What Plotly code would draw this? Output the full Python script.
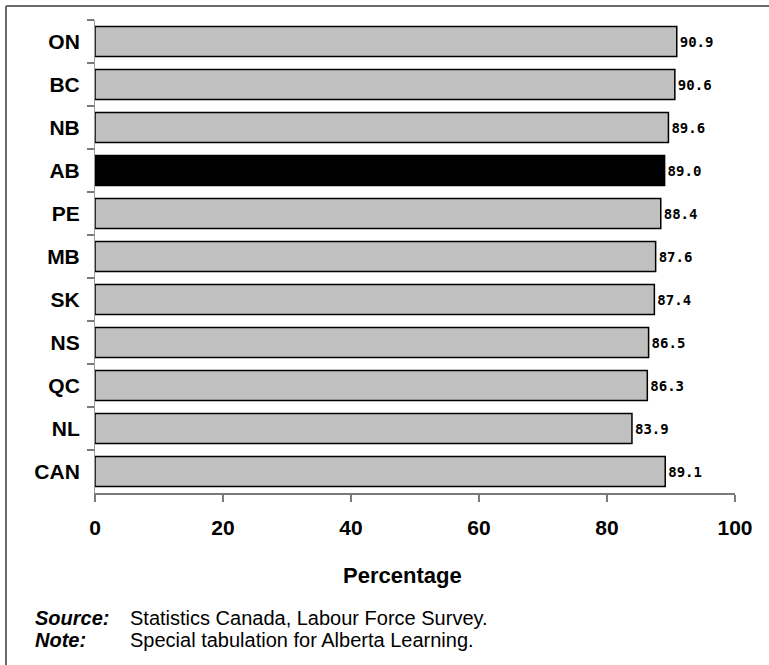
import plotly.graph_objects as go

# Provinces and national average
provinces = ["ON", "BC", "NB", "AB", "PE", "MB", "SK", "NS", "QC", "NL", "CAN"]
percentages = [90.9, 90.6, 89.6, 89.0, 88.4, 87.6, 87.4, 86.5, 86.3, 83.9, 89.1]
highlight = "AB"
x_ticks = [0, 20, 40, 60, 80, 100]

W, H = 769, 665
L, R, T, B = 95, 34, 20, 172
PW, PH = W - L - R, H - T - B


def px_x(px):
    return (px - L) / PW


def px_y(py):
    return (H - B - py) / PH


colors = ["#000000" if p == highlight else "#C0C0C0" for p in provinces]
labels = [f"{v:.1f}" for v in percentages]

fig = go.Figure(
    go.Bar(
        x=percentages,
        y=provinces,
        orientation="h",
        marker=dict(color=colors, line=dict(color="#000000", width=1.5)),
        text=labels,
        textposition="outside",
        textfont=dict(family="DejaVu Sans Mono", size=14, color="#000000", weight="bold"),
        cliponaxis=False,
        hoverinfo="skip",
    )
)

fig.update_layout(
    width=W,
    height=H,
    margin=dict(l=L, r=R, t=T, b=B, autoexpand=False),
    paper_bgcolor="#FFFFFF",
    plot_bgcolor="#FFFFFF",
    bargap=0.3,
    showlegend=False,
    font=dict(family="Liberation Sans, Arial", color="#000000"),
)

fig.update_xaxes(
    range=[0, 100],
    tickvals=x_ticks,
    ticktext=[str(t) for t in x_ticks],
    showgrid=False,
    zeroline=False,
    showline=True,
    linecolor="#7A7A7A",
    linewidth=2,
    ticks="outside",
    ticklen=7,
    tickwidth=1.5,
    tickcolor="#7A7A7A",
    ticklabelstandoff=8,
    tickfont=dict(size=21, weight="bold"),
)

fig.update_yaxes(
    categoryorder="array",
    categoryarray=provinces,
    autorange="reversed",
    showgrid=False,
    showline=True,
    linecolor="#9A9A9A",
    linewidth=1,
    ticks="outside",
    tickson="boundaries",
    ticklen=7,
    tickwidth=1.5,
    tickcolor="#7A7A7A",
    ticklabelstandoff=10,
    tickfont=dict(size=21, weight="bold"),
)

# Outer frame (left and top edges)
frame = dict(color="#6A6A6A", width=2)
fig.add_shape(type="line", xref="paper", yref="paper",
              x0=px_x(6), x1=px_x(6), y0=px_y(6), y1=px_y(H + 10), line=frame)
fig.add_shape(type="line", xref="paper", yref="paper",
              x0=px_x(6), x1=px_x(W + 10), y0=px_y(6), y1=px_y(6), line=frame)

fig.add_annotation(text="<b>Percentage</b>", xref="paper", yref="paper",
                   x=px_x(402), y=px_y(575), xanchor="center", yanchor="middle",
                   showarrow=False, font=dict(size=22))

notes = [
    ("Source:", "Statistics Canada, Labour Force Survey.", 618),
    ("Note:", "Special tabulation for Alberta Learning.", 640),
]
for head, body, ypx in notes:
    fig.add_annotation(text=f"<b><i>{head}</i></b>", xref="paper", yref="paper",
                       x=px_x(33), y=px_y(ypx), xanchor="left", yanchor="middle",
                       showarrow=False, font=dict(size=20))
    fig.add_annotation(text=body, xref="paper", yref="paper",
                       x=px_x(128), y=px_y(ypx), xanchor="left", yanchor="middle",
                       showarrow=False, font=dict(size=20))

fig.write_html("out.html")
